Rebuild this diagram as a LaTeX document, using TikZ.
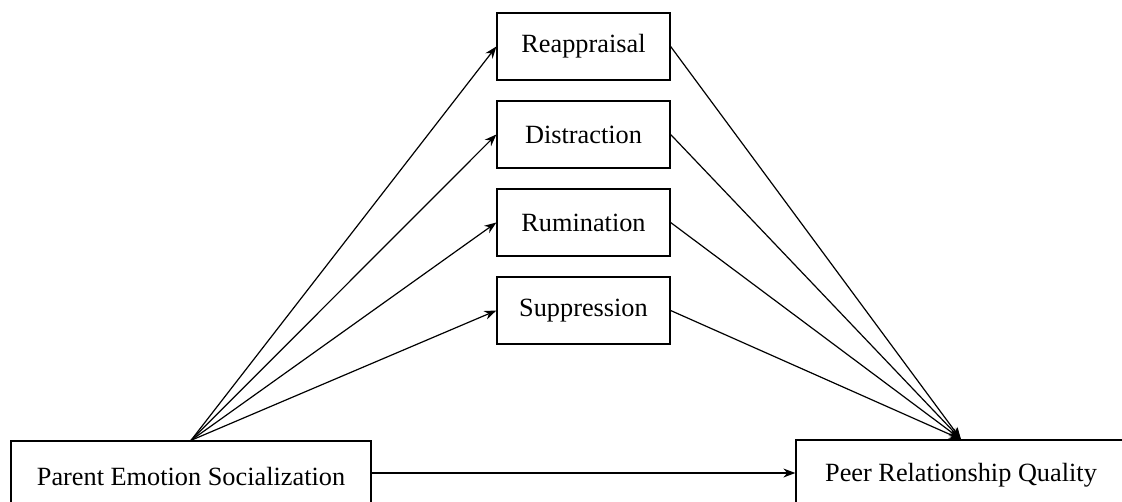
\documentclass[tikz,border=0pt]{standalone}
\usepackage{fontspec}
\setmainfont{Liberation Serif}
\usetikzlibrary{arrows.meta}
\begin{document}
\begin{tikzpicture}[x=1pt,y=-1pt,
  box/.style={draw,line width=1.3pt,minimum width=173pt,minimum height=67pt,inner sep=0pt,font=\fontsize{26.3}{30}\selectfont},
  bigbox/.style={draw,line width=1.3pt,minimum height=70pt,inner sep=0pt,font=\fontsize{26.3}{30}\selectfont},
  arr/.style={line width=1.2pt,-{Stealth[length=12pt,width=9pt]}}]
\useasboundingbox (0,0) rectangle (1122,501);
\clip (0,0) rectangle (1122,501);
\node[box] (rea) at (583.5,46.5) {Reappraisal};
\node[box] (dis) at (583.5,134.5) {Distraction};
\node[box] (rum) at (583.5,222.5) {Rumination};
\node[box] (sup) at (583.5,310.5) {Suppression};
\node[bigbox,minimum width=360pt] (pes) at (191,476) {Parent Emotion Socialization};
\node[bigbox,minimum width=330pt] (prq) at (961,475) {Peer Relationship Quality};
\foreach \m in {rea,dis,rum,sup}{
  \draw[arr] (pes.north) -- (\m.west);
  \draw[arr] (\m.east) -- (prq.north);
}
\draw[arr] ([yshift=3pt]pes.east) -- ([yshift=3pt]pes.east -| prq.west);
\end{tikzpicture}
\end{document}
